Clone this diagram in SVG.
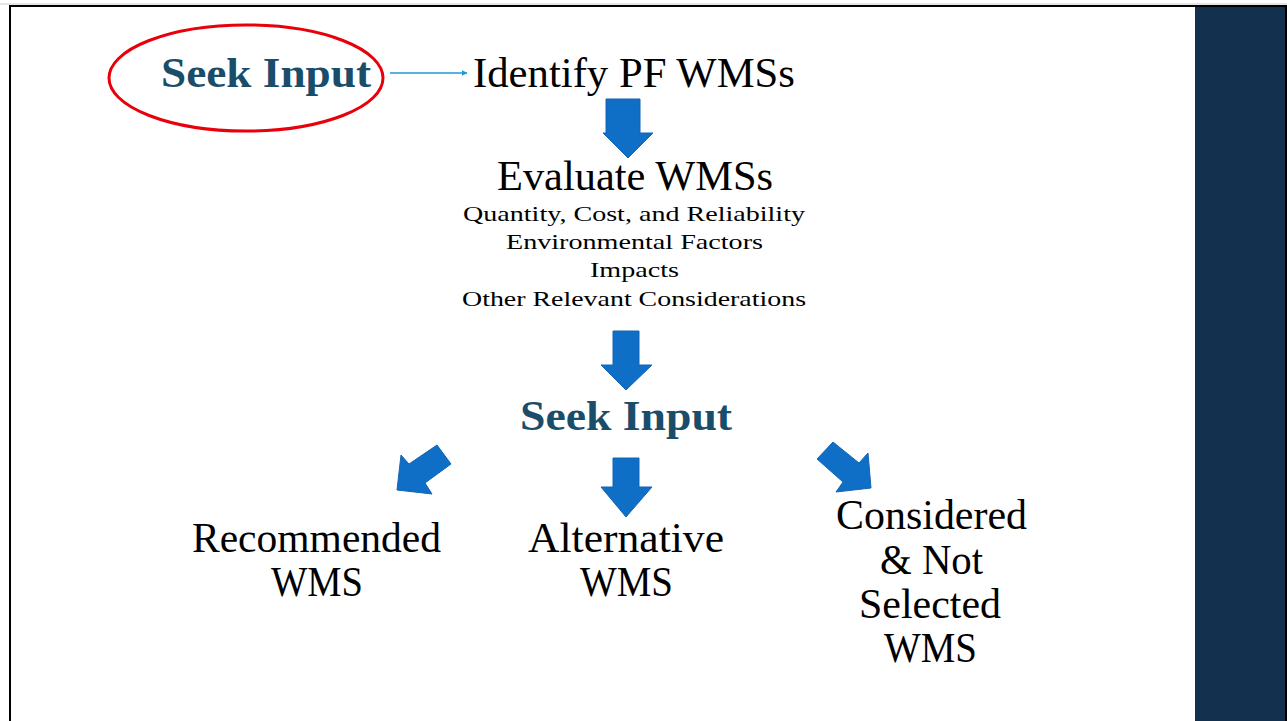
<svg xmlns="http://www.w3.org/2000/svg" width="1287" height="721" viewBox="0 0 1287 721">
<style>
.t{font-family:"Liberation Serif","DejaVu Serif",serif;fill:#000;text-anchor:middle}
.big{font-size:42px}
.small{font-size:22px}
.seek{font-family:"Liberation Serif","DejaVu Serif",serif;font-weight:bold;font-size:42px;fill:#1A4D6A;text-anchor:middle}
.blk{fill:#0F6EC6;stroke:#1565B5;stroke-width:1}
</style>
<defs>
<marker id="ah" viewBox="0 0 10 10" refX="9" refY="5" markerWidth="6" markerHeight="6" orient="auto" markerUnits="userSpaceOnUse">
<path d="M0,0 L10,5 L0,10 z" fill="#1E9AD6"/>
</marker>
</defs>
<rect x="0" y="0" width="1287" height="721" fill="#fff"/>
<line x1="0" y1="4" x2="1287" y2="4" stroke="#ccc" stroke-width="1"/>
<rect id="panel" x="1195" y="6" width="91" height="716" fill="#13304F"/>
<rect x="10" y="6" width="1276" height="720" fill="none" stroke="#000" stroke-width="2"/>

<g id="connectors">
<line x1="390" y1="73" x2="467" y2="73" stroke="#1E9AD6" stroke-width="1.5" marker-end="url(#ah)"/>
<polygon class="blk" points="606,99 640,99 640,133 653,133 628,158 603,133 606,133"/>
<polygon class="blk" points="613,331 639,331 639,365 652,365 626,390 601,365 613,365"/>
<polygon class="blk" points="613,458 639,458 639,487 652,487 626,517 601,487 613,487"/>
<polygon class="blk" points="437,445 451,464 425,483 432,494 397,490 401,455 409,464"/>
<polygon class="blk" points="817,459 833,442 859,463 868,453 871,488 836,492 843,482"/>
</g>

<g id="seek-input-top">
<ellipse cx="246" cy="78" rx="137" ry="53" fill="none" stroke="#E8000B" stroke-width="3"/>
<text class="seek" x="266" y="87" textLength="210" lengthAdjust="spacingAndGlyphs">Seek Input</text>
</g>
<g id="identify">
<text class="t big" x="634" y="87" textLength="322" lengthAdjust="spacingAndGlyphs">Identify PF WMSs</text>
</g>
<g id="evaluate">
<text class="t big" x="635" y="190" textLength="276" lengthAdjust="spacingAndGlyphs">Evaluate WMSs</text>
<text class="t small" x="634" y="221" textLength="342" lengthAdjust="spacingAndGlyphs">Quantity, Cost, and Reliability</text>
<text class="t small" x="634.5" y="249" textLength="257" lengthAdjust="spacingAndGlyphs">Environmental Factors</text>
<text class="t small" x="634.5" y="277" textLength="89" lengthAdjust="spacingAndGlyphs">Impacts</text>
<text class="t small" x="634" y="306" textLength="344" lengthAdjust="spacingAndGlyphs">Other Relevant Considerations</text>
</g>
<g id="seek-input-mid">
<text class="seek" x="626" y="430" textLength="212" lengthAdjust="spacingAndGlyphs">Seek Input</text>
</g>
<g id="recommended">
<text class="t big" x="316.5" y="552" textLength="249" lengthAdjust="spacingAndGlyphs">Recommended</text>
<text class="t big" x="317" y="596" textLength="92" lengthAdjust="spacingAndGlyphs">WMS</text>
</g>
<g id="alternative">
<text class="t big" x="626" y="552" textLength="196" lengthAdjust="spacingAndGlyphs">Alternative</text>
<text class="t big" x="626.5" y="596" textLength="93" lengthAdjust="spacingAndGlyphs">WMS</text>
</g>
<g id="considered">
<text class="t big" x="931.5" y="529" textLength="191" lengthAdjust="spacingAndGlyphs">Considered</text>
<text class="t big" x="931.5" y="574" textLength="103" lengthAdjust="spacingAndGlyphs">&amp; Not</text>
<text class="t big" x="930" y="618" textLength="142" lengthAdjust="spacingAndGlyphs">Selected</text>
<text class="t big" x="930.5" y="662" textLength="93" lengthAdjust="spacingAndGlyphs">WMS</text>
</g>
</svg>
